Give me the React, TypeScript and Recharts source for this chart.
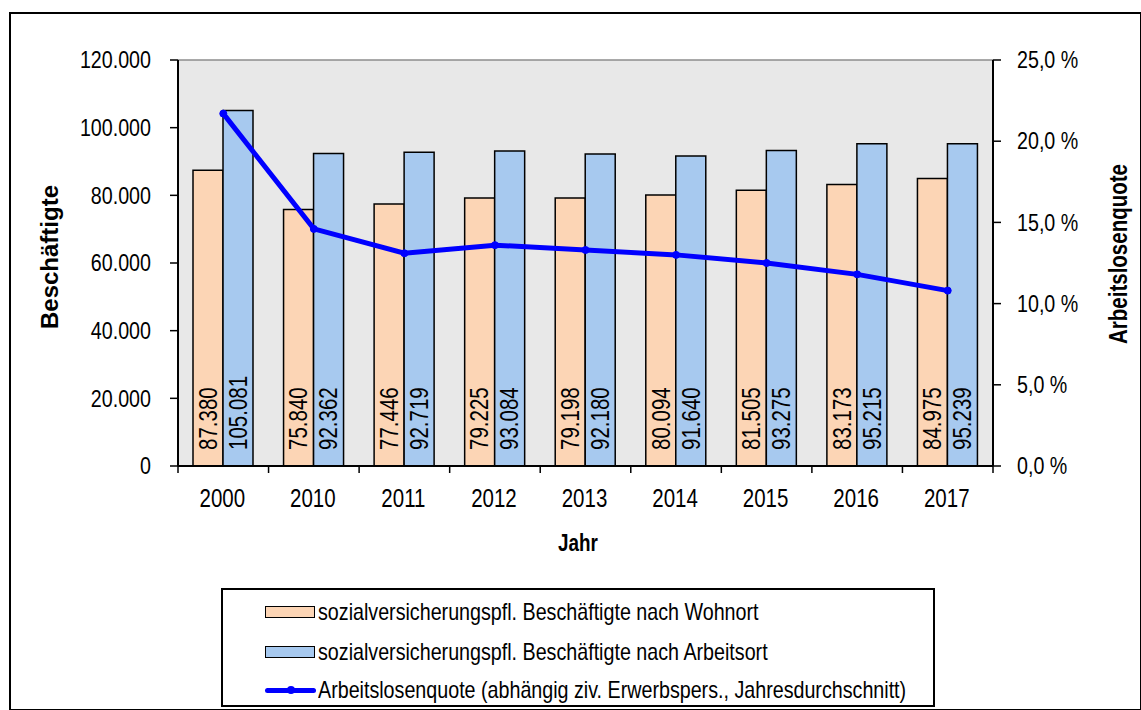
import React from 'react'
import {
  ComposedChart,
  Bar,
  Line,
  XAxis,
  YAxis,
  CartesianGrid,
  LabelList,
  ReferenceLine,
} from 'recharts'

const years = ['2000', '2010', '2011', '2012', '2013', '2014', '2015', '2016', '2017']
const wohnort = [87380, 75840, 77446, 79225, 79198, 80094, 81505, 83173, 84975]
const arbeitsort = [105081, 92362, 92719, 93084, 92180, 91640, 93275, 95215, 95239]
const quote = [21.7, 14.6, 13.1, 13.6, 13.3, 13.0, 12.5, 11.8, 10.8]
const leftTicks = [0, 20000, 40000, 60000, 80000, 100000, 120000]
const rightTicks = [0, 5, 10, 15, 20, 25]

const legendLabels = [
  'sozialversicherungspfl. Beschäftigte nach Wohnort',
  'sozialversicherungspfl. Beschäftigte nach Arbeitsort',
  'Arbeitslosenquote (abhängig ziv. Erwerbspers., Jahresdurchschnitt)',
]

const data = years.map((y, i) => ({
  year: y,
  wohnort: wohnort[i],
  arbeitsort: arbeitsort[i],
  quote: quote[i],
}))

const FONT = '"Liberation Sans", Arial, sans-serif'
const SQ = 0.82 // the original text is horizontally condensed
const ORANGE = '#fcd5b5'
const BLUE = '#a7c9ef'
const LINE = '#0000ff'

// plot area in page pixels
const PLOT_LEFT = 178
const PLOT_RIGHT = 993
const PLOT_TOP = 60
const PLOT_BOTTOM = 466
const BAND = (PLOT_RIGHT - PLOT_LEFT) / years.length

const dots = (n: number) => String(n).replace(/\B(?=(\d{3})+(?!\d))/g, '.')
const pct = (n: number) => n.toFixed(1).replace('.', ',') + ' %'

function NarrowText({ x, y, anchor, children, size = 24 }: any) {
  return (
    <text
      transform={`translate(${x} ${y}) scale(${SQ} 1)`}
      textAnchor={anchor}
      dominantBaseline="central"
      fontSize={size}
      fontFamily={FONT}
      fill="#000"
    >
      {children}
    </text>
  )
}

function XTick(props: any) {
  const { x, y, payload, index } = props
  const left = x - BAND / 2
  return (
    <g>
      <line x1={left} y1={y} x2={left} y2={y + 7} stroke="#000" strokeWidth={1.5} />
      {index === years.length - 1 && (
        <line x1={x + BAND / 2} y1={y} x2={x + BAND / 2} y2={y + 7} stroke="#000" strokeWidth={1.5} />
      )}
      <NarrowText x={x - 1} y={y + 32} anchor="middle" size={25}>{payload.value}</NarrowText>
    </g>
  )
}

function LeftTick(props: any) {
  const { x, y, payload } = props
  return <NarrowText x={x} y={y} anchor="end">{dots(payload.value)}</NarrowText>
}

function RightTick(props: any) {
  const { x, y, payload } = props
  return <NarrowText x={x} y={y} anchor="start">{pct(payload.value)}</NarrowText>
}

function BarValue(props: any) {
  const { x, y, width, height, value } = props
  const cx = x + width / 2
  const cy = y + height - 16
  return (
    <text
      transform={`translate(${cx} ${cy}) rotate(-90) scale(${SQ} 1)`}
      textAnchor="start"
      dominantBaseline="central"
      fontSize={25}
      fontFamily={FONT}
      fill="#000"
    >
      {dots(value)}
    </text>
  )
}

export default function App() {
  return (
    <div style={{ position: 'absolute', left: 0, top: 0, width: 1141, height: 710, background: '#fff', fontFamily: FONT }}>
      <div style={{ position: 'absolute', left: 9, top: 12, width: 1129, height: 695, border: '2px solid #000' }} />

      <div style={{ position: 'absolute', left: 0, top: 0 }}>
        <ComposedChart
          width={1141}
          height={710}
          data={data}
          margin={{ top: PLOT_TOP, left: PLOT_LEFT - 100, right: 1141 - PLOT_RIGHT - 100, bottom: 710 - PLOT_BOTTOM - 40 }}
          barGap={0}
          barCategoryGap="15%"
        >
          <CartesianGrid fill="#e8e8e8" horizontal={false} vertical={false} />
          <XAxis
            dataKey="year"
            height={40}
            tickSize={0}
            tickMargin={0}
            tickLine={false}
            axisLine={{ stroke: '#000', strokeWidth: 2 }}
            tick={<XTick />}
            interval={0}
          />
          <YAxis
            yAxisId="left"
            width={100}
            domain={[0, 120000]}
            ticks={leftTicks}
            tickSize={8}
            tickMargin={19}
            tickLine={{ stroke: '#000', strokeWidth: 1.5 }}
            axisLine={{ stroke: '#000', strokeWidth: 2 }}
            tick={<LeftTick />}
          />
          <YAxis
            yAxisId="right"
            orientation="right"
            width={100}
            domain={[0, 25]}
            ticks={rightTicks}
            tickSize={8}
            tickMargin={16}
            tickLine={{ stroke: '#000', strokeWidth: 1.5 }}
            axisLine={{ stroke: '#000', strokeWidth: 2 }}
            tick={<RightTick />}
          />
          <ReferenceLine yAxisId="left" y={120000} stroke="#8c8c8c" strokeWidth={1.5} />
          <Bar yAxisId="left" dataKey="wohnort" fill={ORANGE} stroke="#000" strokeWidth={1.5} barSize={30} isAnimationActive={false}>
            <LabelList dataKey="wohnort" content={<BarValue />} />
          </Bar>
          <Bar yAxisId="left" dataKey="arbeitsort" fill={BLUE} stroke="#000" strokeWidth={1.5} barSize={30} isAnimationActive={false}>
            <LabelList dataKey="arbeitsort" content={<BarValue />} />
          </Bar>
          <Line
            yAxisId="right"
            dataKey="quote"
            stroke={LINE}
            strokeWidth={5}
            dot={{ r: 3.5, fill: LINE, stroke: LINE, strokeWidth: 1 }}
            isAnimationActive={false}
          />
        </ComposedChart>
      </div>

      {/* axis titles */}
      <div style={{ position: 'absolute', left: 50, top: 257, transform: 'translate(-50%, -50%) rotate(-90deg)', fontWeight: 'bold', fontSize: 24, whiteSpace: 'nowrap' }}>
        Beschäftigte
      </div>
      <div style={{ position: 'absolute', left: 1118, top: 254, transform: `translate(-50%, -50%) rotate(-90deg) scaleX(${SQ})`, fontWeight: 'bold', fontSize: 25, whiteSpace: 'nowrap' }}>
        Arbeitslosenquote
      </div>
      <div style={{ position: 'absolute', left: 578, top: 543, transform: `translate(-50%, -50%) scaleX(${SQ})`, fontWeight: 'bold', fontSize: 23 }}>
        Jahr
      </div>

      {/* legend */}
      <div style={{ position: 'absolute', left: 221, top: 588, width: 710, height: 115, border: '2px solid #000' }}>
        {legendLabels.map((label, i) => (
          <div key={label} style={{ position: 'absolute', left: 42, top: [22, 62, 100][i] - 14, height: 28, display: 'flex', alignItems: 'center', whiteSpace: 'nowrap', fontSize: 24 }}>
            {i < 2 ? (
              <div style={{ width: 48, height: 10, background: i === 0 ? ORANGE : BLUE, border: '1.5px solid #000', marginRight: 3 }} />
            ) : (
              <div style={{ position: 'relative', width: 51, height: 10, marginRight: 2 }}>
                <div style={{ position: 'absolute', left: 0, right: 0, top: 3, height: 5, background: LINE, borderRadius: 3 }} />
                <div style={{ position: 'absolute', left: 22, top: 1, width: 8, height: 8, background: LINE, borderRadius: 4 }} />
              </div>
            )}
            <span style={{ display: 'inline-block', transform: `scaleX(${SQ})`, transformOrigin: 'left center' }}>{label}</span>
          </div>
        ))}
      </div>
    </div>
  )
}
